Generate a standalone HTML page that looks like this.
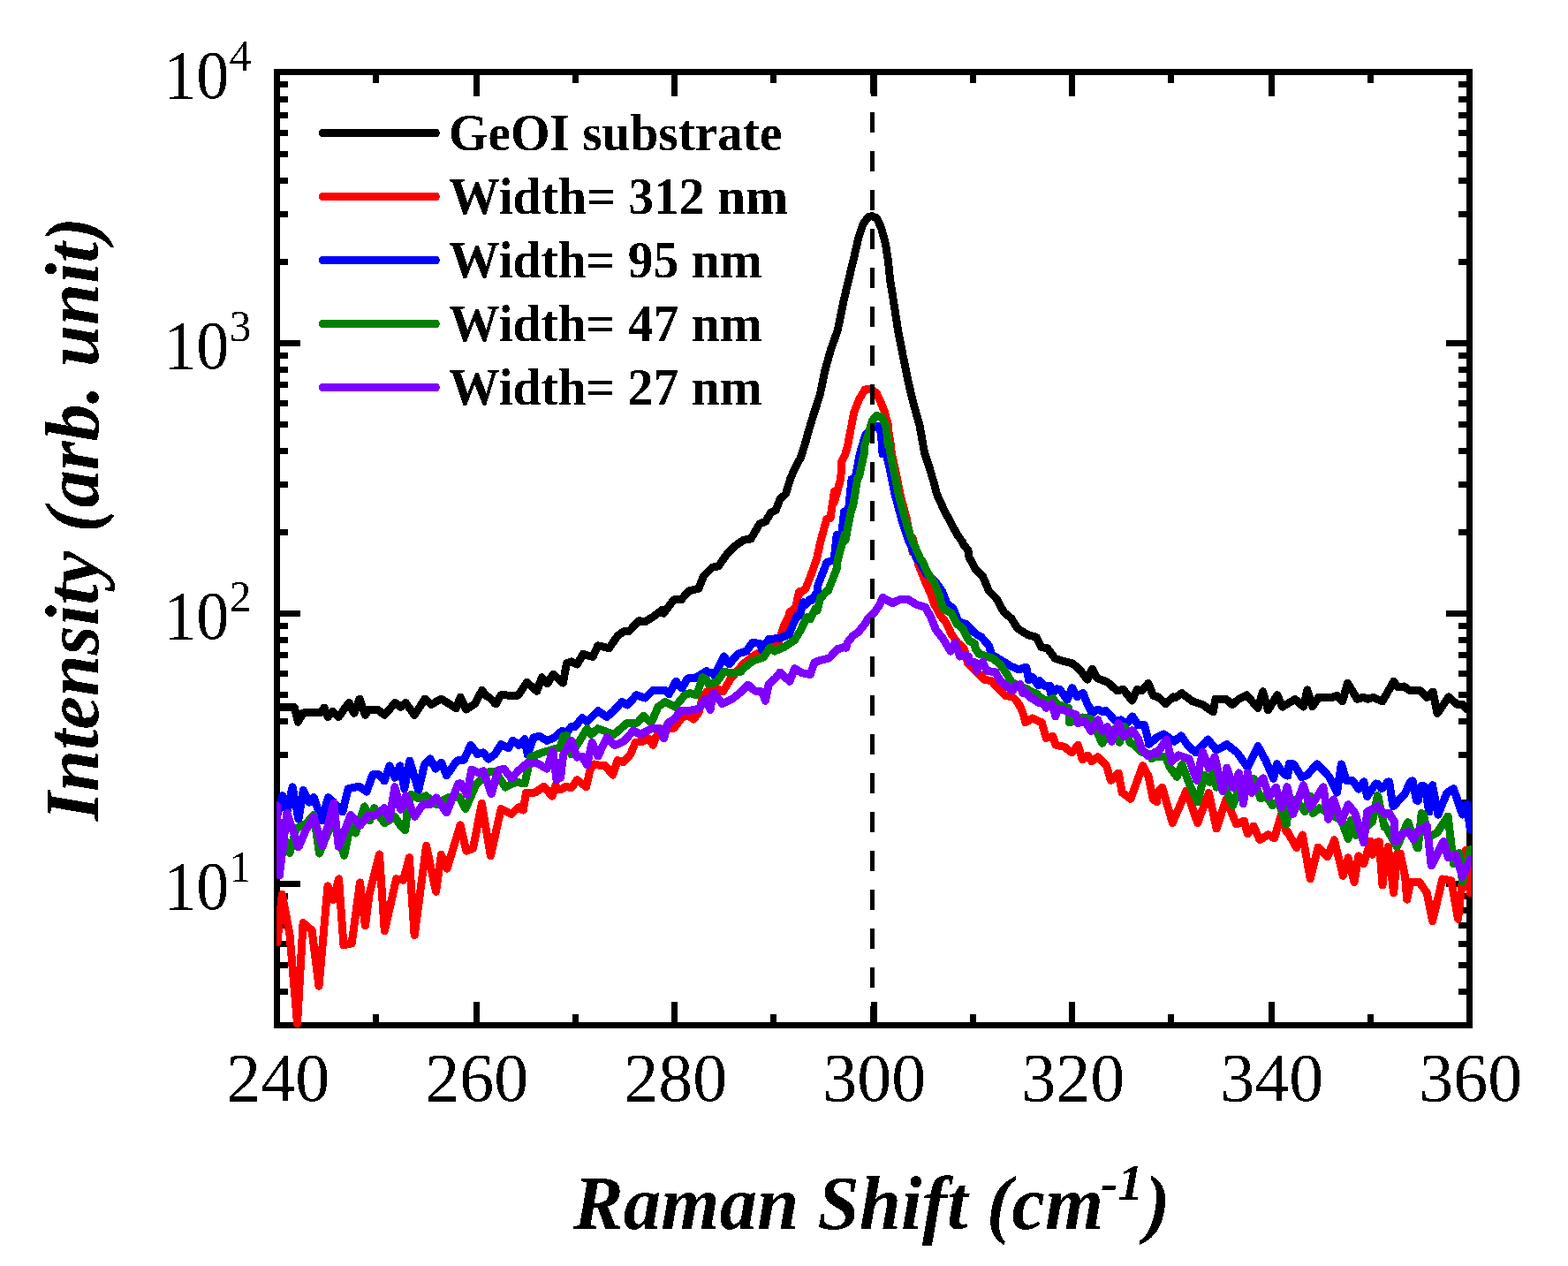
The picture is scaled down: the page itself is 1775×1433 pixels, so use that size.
<!DOCTYPE html>
<html><head><meta charset="utf-8"><title>Raman spectra</title>
<style>html,body{margin:0;padding:0;background:#fff;overflow:hidden}svg{display:block}</style>
</head><body>
<svg width="1775" height="1433" viewBox="0 0 1775 1433">
<defs><filter id="aa" filterUnits="userSpaceOnUse" x="0" y="0" width="1775" height="1433"><feComponentTransfer><feFuncA type="discrete" tableValues="0 1"/></feComponentTransfer></filter><clipPath id="c"><rect x="313" y="78" width="1353" height="1086"/></clipPath></defs>
<rect width="1775" height="1433" fill="#fff"/>
<rect x="313.5" y="81.5" width="1350.0" height="1079" fill="none" stroke="#000" stroke-width="7"/>
<g fill="#000"><rect x="422" y="1148" width="7" height="9"/><rect x="422" y="85" width="7" height="9"/><rect x="536" y="1134" width="7" height="23"/><rect x="536" y="85" width="7" height="24"/><rect x="648" y="1148" width="7" height="9"/><rect x="648" y="85" width="7" height="9"/><rect x="760" y="1134" width="7" height="23"/><rect x="760" y="85" width="7" height="24"/><rect x="872" y="1148" width="7" height="9"/><rect x="872" y="85" width="7" height="9"/><rect x="986" y="1134" width="7" height="23"/><rect x="986" y="85" width="7" height="24"/><rect x="1098" y="1148" width="7" height="9"/><rect x="1098" y="85" width="7" height="9"/><rect x="1210" y="1134" width="7" height="23"/><rect x="1210" y="85" width="7" height="24"/><rect x="1322" y="1148" width="7" height="9"/><rect x="1322" y="85" width="7" height="9"/><rect x="1436" y="1134" width="7" height="23"/><rect x="1436" y="85" width="7" height="24"/><rect x="1548" y="1148" width="7" height="9"/><rect x="1548" y="85" width="7" height="9"/><rect x="317" y="1119.0" width="9" height="7"/><rect x="1651" y="1119.0" width="9" height="7"/><rect x="317" y="1089.0" width="9" height="7"/><rect x="1651" y="1089.0" width="9" height="7"/><rect x="317" y="1065.0" width="9" height="7"/><rect x="1651" y="1065.0" width="9" height="7"/><rect x="317" y="1044.0" width="9" height="7"/><rect x="1651" y="1044.0" width="9" height="7"/><rect x="317" y="1027.0" width="9" height="7"/><rect x="1651" y="1027.0" width="9" height="7"/><rect x="317" y="1011.0" width="9" height="7"/><rect x="1651" y="1011.0" width="9" height="7"/><rect x="317" y="997.0" width="23" height="7"/><rect x="1637" y="997.0" width="23" height="7"/><rect x="317" y="905.0" width="9" height="7"/><rect x="1651" y="905.0" width="9" height="7"/><rect x="317" y="851.0" width="9" height="7"/><rect x="1651" y="851.0" width="9" height="7"/><rect x="317" y="813.0" width="9" height="7"/><rect x="1651" y="813.0" width="9" height="7"/><rect x="317" y="783.0" width="9" height="7"/><rect x="1651" y="783.0" width="9" height="7"/><rect x="317" y="759.0" width="9" height="7"/><rect x="1651" y="759.0" width="9" height="7"/><rect x="317" y="738.0" width="9" height="7"/><rect x="1651" y="738.0" width="9" height="7"/><rect x="317" y="721.0" width="9" height="7"/><rect x="1651" y="721.0" width="9" height="7"/><rect x="317" y="705.0" width="9" height="7"/><rect x="1651" y="705.0" width="9" height="7"/><rect x="317" y="691.0" width="23" height="7"/><rect x="1637" y="691.0" width="23" height="7"/><rect x="317" y="599.0" width="9" height="7"/><rect x="1651" y="599.0" width="9" height="7"/><rect x="317" y="545.0" width="9" height="7"/><rect x="1651" y="545.0" width="9" height="7"/><rect x="317" y="507.0" width="9" height="7"/><rect x="1651" y="507.0" width="9" height="7"/><rect x="317" y="477.0" width="9" height="7"/><rect x="1651" y="477.0" width="9" height="7"/><rect x="317" y="453.0" width="9" height="7"/><rect x="1651" y="453.0" width="9" height="7"/><rect x="317" y="432.0" width="9" height="7"/><rect x="1651" y="432.0" width="9" height="7"/><rect x="317" y="415.0" width="9" height="7"/><rect x="1651" y="415.0" width="9" height="7"/><rect x="317" y="399.0" width="9" height="7"/><rect x="1651" y="399.0" width="9" height="7"/><rect x="317" y="385.0" width="23" height="7"/><rect x="1637" y="385.0" width="23" height="7"/><rect x="317" y="293.0" width="9" height="7"/><rect x="1651" y="293.0" width="9" height="7"/><rect x="317" y="239.0" width="9" height="7"/><rect x="1651" y="239.0" width="9" height="7"/><rect x="317" y="201.0" width="9" height="7"/><rect x="1651" y="201.0" width="9" height="7"/><rect x="317" y="171.0" width="9" height="7"/><rect x="1651" y="171.0" width="9" height="7"/><rect x="317" y="147.0" width="9" height="7"/><rect x="1651" y="147.0" width="9" height="7"/><rect x="317" y="127.0" width="9" height="7"/><rect x="1651" y="127.0" width="9" height="7"/><rect x="317" y="109.0" width="9" height="7"/><rect x="1651" y="109.0" width="9" height="7"/><rect x="317" y="92.0" width="9" height="7"/><rect x="1651" y="92.0" width="9" height="7"/></g>
<g clip-path="url(#c)"><path d="M317.0,800.7 333.2,800.7 337.4,817.2 343.0,806.9 362.7,806.9 367.0,801.0 371.2,811.5 376.8,805.2 383.2,811.5 395.1,795.4 400.8,807.3 407.1,791.1 413.5,809.4 417.7,803.1 427.5,803.1 435.3,809.4 447.3,795.4 453.6,800.3 459.2,795.4 469.1,809.4 481.1,791.1 488.1,797.5 499.4,791.1 516.3,801.7 521.2,789.0 527.5,803.1 537.4,796.8 545.8,781.3 550.0,787.2 554.3,789.7 561.3,797.0 566.9,786.9 586.6,787.2 596.5,772.4 607.7,782.3 613.4,766.8 619.7,773.8 626.1,763.2 637.3,773.1 641.5,750.6 647.2,748.9 653.5,752.0 659.9,740.4 671.1,743.5 676.8,730.8 689.4,733.7 699.3,719.6 706.3,714.6 712.0,714.6 723.2,702.7 730.3,703.7 740.1,697.7 750.0,690.1 751.4,694.2 762.7,678.9 771.1,678.9 779.6,669.0 790.8,666.2 796.5,652.1 806.3,642.3 813.4,640.8 823.2,626.8 831.7,618.3 841.5,611.3 850.0,609.9 859.9,593.0 866.9,590.1 872.5,580.3 878.2,577.5 883.1,564.8 889.4,559.2 895.1,540.8 900.7,528.2 906.3,518.3 912.0,500.0 914.2,491.7 920.3,471.4 928.4,446.1 933.5,420.7 940.6,395.4 948.2,374.0 954.8,341.6 960.8,316.2 966.9,290.8 972.0,268.5 977.1,253.3 983.2,245.2 987.2,244.7 992.3,246.7 997.4,257.4 1002.4,275.6 1005.5,295.9 1007.5,316.2 1011.6,341.6 1016.6,374.0 1021.7,400.4 1027.8,430.8 1033.9,456.2 1041.0,481.6 1045.2,505.0 1047.0,514.0 1051.6,527.7 1057.0,545.8 1060.6,559.4 1068.8,577.6 1076.1,591.2 1083.3,604.8 1089.7,613.8 1090.0,615.6 1096.0,622.9 1097.0,631.1 1098.7,633.8 1104.1,643.8 1112.5,652.3 1119.6,669.2 1128.0,677.6 1136.5,693.1 1144.9,700.1 1152.0,711.4 1163.2,718.5 1173.1,721.3 1178.7,732.5 1185.8,733.9 1194.2,745.2 1202.7,748.0 1213.9,750.8 1222.4,757.9 1230.8,769.2 1236.5,757.2 1242.1,767.7 1253.4,772.0 1264.6,781.8 1271.7,780.4 1281.5,793.1 1287.2,780.4 1292.8,781.8 1299.9,773.4 1305.5,787.5 1311.1,788.9 1319.6,796.6 1328.0,788.9 1330.0,790.0 1337.9,784.6 1340.5,786.7 1350.1,793.9 1361.6,797.7 1373.1,805.8 1376.0,791.0 1387.5,791.0 1395.1,797.7 1402.8,791.0 1411.4,786.7 1423.9,801.5 1429.6,782.8 1435.4,803.9 1445.9,786.7 1451.6,800.1 1466.0,791.5 1475.6,800.1 1479.9,780.9 1485.7,799.6 1492.8,789.1 1495.0,789.4 1507.8,789.4 1513.7,787.4 1519.6,793.8 1525.6,773.1 1536.4,791.3 1543.3,789.4 1548.2,791.3 1554.2,789.4 1565.0,793.8 1577.8,771.1 1581.8,777.5 1589.6,777.0 1595.6,781.5 1607.4,781.5 1615.3,789.4 1622.2,783.0 1627.1,807.6 1639.9,788.9 1649.8,797.7 1655.7,797.3 1659.6,802.2 1663.6,803.2" fill="none" stroke="#000000" stroke-width="9" stroke-linejoin="round" stroke-linecap="round" shape-rendering="crispEdges"/><path d="M314.0,1066.5 319.3,1012.1 327.9,1057.2 336.5,1158.7 343.1,1044.6 353.1,1053.2 361.0,1116.2 371.0,1002.8 377.0,1018.8 383.6,994.9 388.9,1069.8 398.2,1067.8 407.5,998.9 413.4,1047.9 418.1,1012.1 429.5,967.0 435.3,1053.9 448.6,994.9 456.5,996.2 462.2,975.0 463.3,970.7 469.1,1057.9 469.2,1058.6 476.4,1004.2 482.6,957.3 493.5,1009.2 499.4,967.3 506.0,983.2 511.9,964.0 521.1,933.8 527.8,963.1 535.4,960.6 545.4,909.5 555.4,969.0 567.2,915.4 578.9,921.3 587.3,913.7 592.3,917.1 595.6,897.0 605.7,897.0 615.7,890.3 624.9,901.2 629.1,888.6 630.0,894.0 634.1,893.6 636.7,892.9 640.0,890.3 646.7,891.8 653.4,882.8 663.5,890.6 668.0,871.7 672.4,865.0 678.0,866.1 684.7,866.1 693.6,877.2 699.2,860.5 705.9,862.7 713.7,853.8 719.3,840.4 727.1,839.3 733.8,835.9 739.4,843.2 742.8,833.7 750.6,824.8 762.9,824.2 771.8,812.5 778.5,809.1 785.2,814.2 790.8,806.9 795.3,790.1 800.0,783.0 808.7,777.9 818.6,782.6 826.4,769.4 841.0,751.8 854.7,741.1 881.1,727.4 887.9,706.9 893.7,695.8 893.8,693.2 900.7,687.3 902.5,679.5 904.5,669.8 904.9,671.8 912.0,666.2 917.6,652.1 924.6,632.4 928.9,612.7 935.9,587.3 940.0,586.6 944.4,556.3 944.5,568.5 951.8,541.3 952.8,522.5 956.8,514.0 959.5,505.0 962.9,486.6 966.9,466.3 973.0,451.1 979.1,441.0 985.2,440.0 992.3,445.0 997.4,456.2 1001.4,466.3 1005.5,481.6 1007.1,505.0 1007.5,496.8 1009.5,514.0 1013.5,532.2 1018.9,559.4 1026.2,586.6 1033.0,624.9 1033.4,609.3 1039.8,639.5 1047.7,659.1 1053.5,671.8 1057.4,683.5 1064.3,696.2 1071.1,705.0 1077.0,717.7 1083.8,727.4 1090.0,732.5 1091.6,735.2 1095.6,750.8 1096.5,751.8 1104.1,759.3 1113.9,769.2 1122.4,770.6 1129.4,779.0 1137.9,787.5 1146.3,788.9 1150.0,792.5 1153.4,797.3 1155.9,802.2 1159.0,810.0 1160.7,817.9 1168.6,813.0 1179.3,817.9 1184.2,835.4 1192.0,833.5 1194.9,843.2 1204.7,845.2 1213.5,852.0 1220.3,843.2 1225.2,859.8 1231.1,855.0 1235.9,861.8 1242.8,856.9 1252.5,866.7 1257.4,883.3 1266.2,875.0 1270.1,897.0 1279.9,904.3 1293.6,866.7 1300.0,878.4 1305.3,904.8 1309.8,907.7 1310.2,897.0 1315.6,891.1 1327.3,931.6 1343.0,895.0 1355.7,931.6 1368.4,897.4 1377.1,937.9 1387.9,904.7 1399.6,933.0 1408.4,929.1 1412.3,943.8 1419.1,935.0 1426.0,950.6 1435.7,944.8 1442.6,948.7 1450.4,922.3 1456.2,941.8 1456.8,940.1 1467.6,959.6 1474.4,945.0 1483.2,994.8 1492.0,959.1 1502.7,969.9 1510.5,950.8 1520.3,991.3 1526.2,970.8 1533.0,998.7 1537.9,968.9 1543.8,977.7 1551.6,952.3 1553.5,967.4 1559.4,952.8 1561.3,952.9 1565.0,1001.9 1565.2,996.7 1571.1,959.1 1571.3,958.5 1576.0,996.7 1577.6,1010.7 1581.8,966.0 1585.1,966.1 1590.6,991.8 1592.7,1018.2 1596.5,998.7 1597.7,998.1 1606.2,998.7 1606.5,998.1 1615.3,1010.7 1621.6,1042.7 1632.9,995.0 1642.9,996.9 1650.5,1040.2 1659.3,962.3 1664.3,1010.7" fill="none" stroke="#ff0000" stroke-width="9" stroke-linejoin="round" stroke-linecap="round" shape-rendering="crispEdges"/><path d="M313.9,922.6 319.8,900.8 325.2,918.0 331.1,890.8 337.9,927.1 343.4,894.5 349.7,908.1 355.2,902.6 364.2,928.9 371.5,902.6 376.9,907.2 387.8,919.0 394.2,892.7 398.7,891.7 406.7,890.3 415.1,896.2 421.8,876.9 429.3,876.9 435.2,884.0 441.0,866.9 446.9,880.3 452.8,866.9 457.8,892.8 463.7,861.0 473.7,894.5 480.4,866.0 487.1,858.9 493.0,870.2 499.7,863.1 505.5,877.7 517.3,861.0 525.3,860.1 532.8,843.4 540.4,853.4 547.1,851.8 552.9,859.3 560.5,853.4 567.2,842.6 575.5,846.7 580.6,838.4 587.3,843.4 594.0,836.7 597.3,854.3 604.0,835.0 610.7,833.3 619.1,838.4 627.4,835.0 630.0,832.6 636.7,827.0 637.5,831.7 641.2,829.2 646.7,822.5 651.2,822.5 659.0,812.5 664.6,816.9 676.9,804.7 686.9,811.4 694.8,804.7 703.7,794.6 710.4,798.0 720.4,786.8 730.5,790.1 739.4,781.2 752.8,781.2 757.3,785.7 765.1,771.2 771.8,779.0 778.5,767.8 786.3,767.8 791.9,764.5 800.0,759.6 802.0,761.1 807.8,761.6 808.7,764.5 819.5,743.0 825.4,751.8 835.2,740.1 844.9,737.1 851.8,727.4 860.5,728.4 862.5,735.7 870.3,723.5 882.0,722.5 892.8,718.6 897.7,706.9 902.1,697.2 905.5,697.1 909.2,681.7 912.3,684.4 916.2,678.9 919.1,679.5 925.0,669.8 926.1,662.0 935.9,636.6 944.1,633.8 947.2,605.6 952.7,604.8 955.6,578.9 960.4,577.6 964.1,542.3 968.1,541.3 973.3,514.0 975.8,505.0 980.1,491.7 989.2,483.6 993.8,482.6 997.4,489.7 999.1,514.0 1001.0,505.0 1007.6,532.2 1013.0,559.4 1020.3,586.6 1027.5,609.3 1038.4,633.8 1040.8,634.6 1048.6,649.3 1059.4,659.1 1066.2,668.8 1072.1,683.5 1078.9,688.4 1084.8,703.0 1090.0,705.8 1092.6,705.9 1098.4,710.8 1101.3,714.2 1106.2,718.6 1110.2,720.6 1111.1,721.3 1119.6,731.1 1122.4,741.0 1132.3,746.6 1143.5,753.7 1153.4,757.9 1161.8,755.1 1164.6,770.0 1168.9,766.3 1175.4,775.9 1177.3,770.6 1181.5,776.2 1188.6,776.2 1189.1,784.6 1192.8,783.2 1195.9,779.8 1199.9,780.4 1207.6,792.0 1208.3,791.7 1213.5,778.8 1213.9,779.0 1219.3,788.6 1219.6,787.5 1226.2,784.6 1226.6,786.1 1232.3,800.1 1233.0,799.3 1235.9,808.1 1237.9,805.8 1242.8,803.2 1249.2,805.8 1251.6,804.2 1257.6,810.0 1259.4,813.0 1262.3,815.9 1269.1,814.9 1274.0,820.8 1281.8,811.0 1288.7,820.8 1295.5,820.8 1300.0,838.3 1300.4,842.3 1307.8,836.4 1308.2,835.4 1317.6,831.0 1329.3,839.3 1337.1,832.9 1344.9,844.2 1353.7,852.0 1367.4,836.9 1377.1,849.1 1388.9,842.7 1400.6,852.0 1412.3,868.6 1424.0,844.7 1432.8,860.8 1441.6,881.3 1445.5,864.7 1450.0,871.7 1456.2,877.9 1457.8,878.1 1459.2,864.7 1464.6,864.9 1473.4,879.5 1479.3,877.6 1491.0,864.9 1500.8,874.6 1504.7,879.5 1513.5,897.1 1518.4,864.9 1524.2,883.4 1531.1,883.4 1537.9,893.2 1543.8,884.9 1547.7,901.5 1557.4,886.9 1560.0,887.5 1563.8,892.6 1565.2,892.2 1571.1,884.9 1572.6,885.0 1577.0,912.7 1578.8,911.4 1586.7,902.0 1590.2,898.8 1596.5,884.9 1599.0,883.8 1603.3,905.4 1605.2,906.4 1609.2,889.3 1612.8,890.1 1617.8,919.0 1621.6,888.8 1627.9,922.1 1637.9,897.6 1645.4,892.6 1655.5,922.1 1660.5,910.2 1664.3,939.1" fill="none" stroke="#0000ff" stroke-width="9" stroke-linejoin="round" stroke-linecap="round" shape-rendering="crispEdges"/><path d="M317.1,937.1 328.0,965.7 335.2,938.0 346.1,932.6 355.2,922.6 361.5,966.1 371.5,941.6 378.7,931.7 389.6,968.4 396.9,932.6 402.5,943.1 412.6,912.9 418.4,928.8 423.5,914.6 435.2,931.8 446.9,924.6 453.6,934.7 458.6,939.7 462.0,912.1 465.3,899.1 473.7,903.7 482.1,900.8 493.8,910.4 507.2,902.9 519.8,902.0 527.0,915.4 538.7,888.6 553.8,873.5 560.5,873.5 572.2,891.1 583.9,885.3 594.0,886.9 600.7,856.8 614.1,851.8 630.0,847.1 634.1,846.7 637.5,833.3 641.2,832.6 646.7,853.8 664.6,824.8 669.1,831.5 676.9,824.8 683.6,827.0 694.8,831.5 710.4,818.1 721.6,818.1 728.3,810.2 737.2,818.1 745.0,800.2 752.8,794.6 764.0,800.2 775.2,786.8 780.7,784.6 788.6,786.8 795.3,766.7 800.0,769.4 802.0,774.5 805.9,774.3 808.7,772.3 811.7,771.3 819.5,760.6 829.3,761.6 838.1,760.6 843.9,754.7 852.7,747.9 864.5,744.0 871.3,733.2 877.1,737.1 887.9,732.3 899.6,724.5 905.5,714.7 913.4,698.6 917.2,701.0 923.2,688.7 925.0,691.2 928.9,676.1 928.9,677.6 936.7,667.8 937.3,669.0 947.2,643.7 948.2,633.8 956.3,604.8 957.0,611.3 963.6,577.6 965.5,573.2 970.8,541.3 972.5,539.4 978.1,514.0 978.5,505.0 983.2,491.7 987.2,476.5 992.3,470.4 998.4,472.4 1003.4,483.6 1005.3,505.0 1006.5,501.8 1008.0,514.0 1011.7,532.2 1017.1,559.4 1024.4,586.6 1031.6,609.3 1042.5,633.8 1043.8,634.6 1050.6,649.3 1057.4,659.1 1063.3,673.7 1067.2,688.4 1077.0,694.2 1082.8,705.9 1090.0,711.4 1090.6,712.8 1095.6,722.7 1097.5,725.5 1103.3,728.4 1104.1,733.9 1108.2,740.1 1115.4,742.4 1123.8,745.2 1132.3,752.3 1139.3,762.1 1144.9,772.0 1153.4,776.2 1162.7,779.8 1164.6,781.8 1174.4,785.6 1174.5,787.5 1184.2,793.4 1188.6,791.7 1192.0,790.5 1196.9,798.3 1197.0,797.3 1209.7,801.5 1210.5,817.9 1225.2,812.0 1235.0,813.9 1247.7,841.3 1253.5,832.5 1262.3,824.7 1267.2,840.3 1273.0,822.7 1278.9,840.3 1285.7,844.2 1291.6,851.1 1300.0,853.0 1303.3,857.9 1303.9,858.8 1309.2,855.9 1319.5,856.9 1324.4,868.6 1332.2,879.3 1338.1,865.2 1345.9,886.2 1355.7,907.7 1363.5,877.4 1369.3,885.2 1373.2,873.5 1377.1,891.1 1385.0,888.1 1395.7,911.6 1400.6,897.9 1419.1,881.3 1427.0,903.8 1432.8,900.8 1440.6,911.6 1446.5,907.7 1450.0,914.7 1455.9,933.2 1456.2,933.5 1459.2,913.5 1466.6,904.9 1477.3,918.6 1483.2,901.0 1486.1,920.5 1493.9,914.7 1518.4,928.4 1526.2,949.4 1529.1,928.4 1535.0,945.4 1553.5,930.3 1559.4,900.5 1560.0,901.4 1567.2,936.2 1567.5,934.0 1581.4,958.5 1581.8,957.7 1593.6,930.8 1593.9,930.9 1604.3,959.6 1605.2,959.8 1609.2,920.5 1611.5,922.1 1616.5,947.9 1626.6,942.8 1639.2,924.0 1645.4,978.0 1651.7,965.4 1655.5,998.1 1664.3,961.7" fill="none" stroke="#008000" stroke-width="9" stroke-linejoin="round" stroke-linecap="round" shape-rendering="crispEdges"/><path d="M313.5,912.0 316.3,991.0 324.8,920.5 337.9,958.9 346.1,939.8 355.2,924.9 365.1,958.0 377.8,909.0 383.3,958.4 396.9,922.6 407.5,934.3 416.8,923.0 425.1,923.0 435.2,914.6 441.0,926.3 446.9,890.7 453.6,916.3 459.5,900.8 469.5,924.2 478.7,910.4 487.1,910.4 493.8,902.9 505.5,920.0 518.9,887.0 522.0,886.9 528.7,899.5 533.7,871.0 542.0,875.2 547.1,872.7 556.3,898.7 563.8,871.9 570.5,870.2 578.9,881.1 587.3,871.9 597.3,863.5 607.4,863.5 619.1,870.2 625.8,850.1 630.0,882.8 630.8,881.9 634.5,880.6 637.5,855.1 646.7,838.2 653.4,857.1 659.0,856.0 664.6,866.1 670.2,840.4 676.9,856.0 686.9,834.8 695.9,843.7 705.9,839.3 717.1,827.0 724.9,831.5 737.2,824.8 747.2,824.8 751.7,835.9 756.2,818.1 764.0,813.6 769.6,804.7 779.6,804.7 790.8,802.4 798.6,791.3 804.2,803.5 806.8,785.5 808.7,784.6 817.6,796.7 829.3,790.9 839.1,783.0 846.9,775.2 854.7,782.1 862.5,783.0 866.4,793.3 870.3,774.3 878.1,767.4 883.0,761.1 893.8,771.3 899.6,756.7 907.4,761.6 917.2,763.5 922.1,749.8 927.0,747.9 938.7,745.0 948.4,734.2 950.0,734.3 956.2,732.3 957.8,733.3 959.2,727.4 965.6,719.6 971.5,715.7 979.3,705.9 982.4,700.0 989.1,694.2 995.9,684.5 999.3,676.1 1002.7,678.6 1010.5,682.5 1018.4,678.6 1028.1,678.6 1037.9,684.5 1047.7,687.4 1053.5,698.1 1059.4,712.8 1067.2,722.5 1076.0,737.2 1080.9,727.4 1086.7,743.0 1090.0,742.4 1096.5,743.0 1097.0,749.4 1104.3,749.9 1105.5,759.3 1109.2,751.8 1112.5,749.4 1116.8,759.3 1126.6,760.7 1132.3,770.6 1140.7,777.6 1146.3,781.8 1150.0,775.9 1154.8,774.8 1157.8,784.6 1160.4,783.2 1167.6,790.5 1168.9,790.3 1175.4,795.4 1180.1,795.9 1184.2,801.2 1188.6,798.7 1191.0,796.4 1194.9,811.0 1197.0,803.0 1201.8,803.2 1209.7,805.8 1210.5,806.1 1218.4,809.1 1220.3,818.8 1228.1,815.9 1235.0,827.6 1242.8,814.9 1247.7,827.6 1253.5,822.7 1258.4,839.3 1266.2,818.8 1272.1,833.5 1281.8,826.6 1288.7,836.4 1292.6,848.1 1300.0,855.9 1300.4,855.4 1308.2,851.1 1309.8,853.0 1320.5,836.9 1326.4,861.8 1334.2,854.9 1345.9,858.8 1354.7,883.2 1361.5,851.0 1368.4,869.6 1375.2,856.9 1384.0,895.4 1388.9,869.1 1395.7,891.5 1402.5,874.9 1407.4,909.6 1412.3,874.9 1417.2,897.4 1429.9,880.8 1436.7,901.8 1444.5,891.1 1450.0,912.7 1451.4,913.5 1456.8,890.8 1457.2,891.1 1463.7,921.5 1475.4,888.8 1483.2,913.7 1497.9,890.8 1503.7,927.4 1509.6,904.9 1518.4,929.8 1526.2,910.8 1534.0,920.5 1543.8,953.8 1547.7,918.6 1559.4,912.7 1560.0,913.9 1567.2,920.5 1572.6,920.2 1574.0,923.5 1578.8,930.3 1578.9,951.8 1581.4,952.3 1586.7,944.0 1591.4,942.8 1594.5,941.1 1600.2,950.4 1600.4,948.9 1606.2,939.1 1607.8,940.3 1615.3,934.7 1620.3,979.9 1634.1,952.3 1639.2,970.5 1648.0,968.0 1655.5,992.5 1664.3,973.0" fill="none" stroke="#8000ff" stroke-width="9" stroke-linejoin="round" stroke-linecap="round" shape-rendering="crispEdges"/></g>
<line x1="987.5" y1="83" x2="987.5" y2="1160" stroke="#000" stroke-width="5" stroke-dasharray="23 21"/>
<g filter="url(#aa)" font-family="Liberation Serif, serif" font-size="78"><text x="314.7" y="1246.3" text-anchor="middle">240</text><text x="539.7" y="1246.3" text-anchor="middle">260</text><text x="764.7" y="1246.3" text-anchor="middle">280</text><text x="989.7" y="1246.3" text-anchor="middle">300</text><text x="1214.7" y="1246.3" text-anchor="middle">320</text><text x="1439.7" y="1246.3" text-anchor="middle">340</text><text x="1664.7" y="1246.3" text-anchor="middle">360</text><text transform="translate(185.2,1029.2) scale(0.95,1)">10</text><text x="259.5" y="998.0" font-size="50">1</text><text transform="translate(185.2,723.2) scale(0.95,1)">10</text><text x="259.5" y="692.0" font-size="50">2</text><text transform="translate(185.2,417.2) scale(0.95,1)">10</text><text x="259.5" y="386.0" font-size="50">3</text><text transform="translate(185.2,111.2) scale(0.95,1)">10</text><text x="259.5" y="80.0" font-size="50">4</text></g>
<g filter="url(#aa)" font-family="Liberation Serif, serif" font-weight="bold" font-style="italic"><text transform="translate(649,1391) scale(0.989,1)" font-size="86">Raman Shift (cm</text><text x="1246" y="1357.6" font-size="58">-1</text><text x="1296" y="1391" font-size="86">)</text></g>
<g filter="url(#aa)"><text transform="translate(111,929) rotate(-90) scale(0.9826,1)" font-family="Liberation Serif, serif" font-weight="bold" font-style="italic" font-size="86">Intensity (arb. unit)</text></g>
<g filter="url(#aa)" font-family="Liberation Serif, serif" font-weight="bold" font-size="60"><line x1="365.5" y1="150.5" x2="493.5" y2="150.5" stroke="#000000" stroke-width="9" stroke-linecap="round"/><text transform="translate(508,170.2) scale(0.9556,1)">GeOI substrate</text><line x1="365.5" y1="222.5" x2="493.5" y2="222.5" stroke="#ff0000" stroke-width="9" stroke-linecap="round"/><text transform="translate(508,242.2) scale(0.961,1)">Width= 312 nm</text><line x1="365.5" y1="294.5" x2="493.5" y2="294.5" stroke="#0000ff" stroke-width="9" stroke-linecap="round"/><text transform="translate(508,314.2) scale(0.959,1)">Width= 95 nm</text><line x1="365.5" y1="366.5" x2="493.5" y2="366.5" stroke="#008000" stroke-width="9" stroke-linecap="round"/><text transform="translate(508,386.2) scale(0.959,1)">Width= 47 nm</text><line x1="365.5" y1="438.5" x2="493.5" y2="438.5" stroke="#8000ff" stroke-width="9" stroke-linecap="round"/><text transform="translate(508,458.2) scale(0.959,1)">Width= 27 nm</text></g>
</svg>
</body></html>
